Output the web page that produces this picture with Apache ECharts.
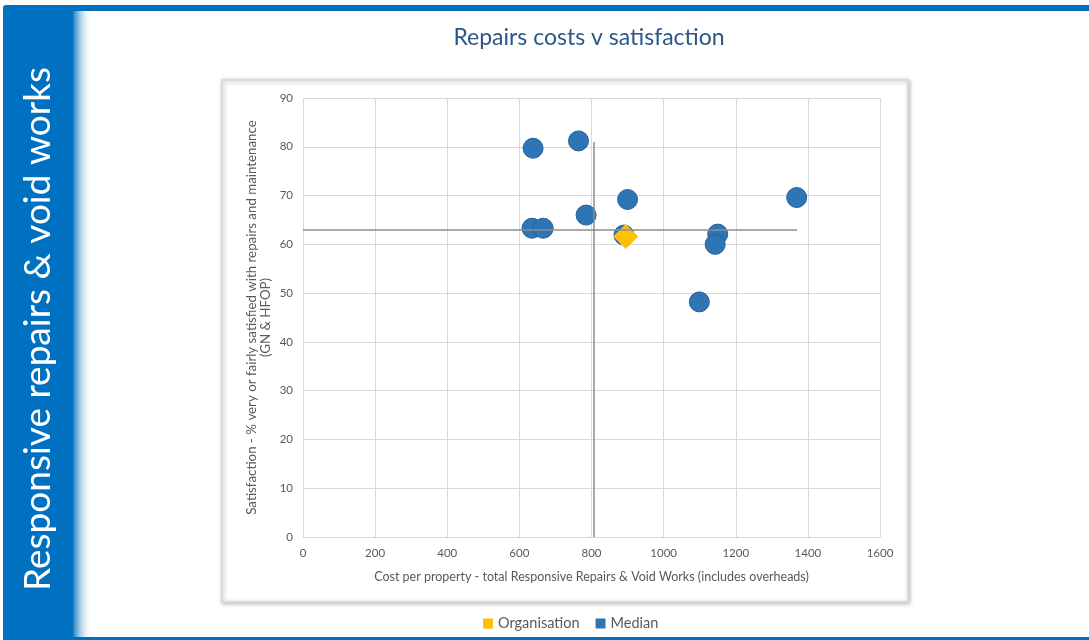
<!DOCTYPE html>
<html lang="en">
<head>
    <meta charset="UTF-8">
    <title>Repairs costs v satisfaction</title>
    <script type="text/javascript" src="https://cdn.jsdelivr.net/npm/echarts@6/dist/echarts.min.js"></script>
    <style>
        html, body {
            width: 100%;
            height: 100%;
            margin: 0;
            padding: 0;
            background: #fff;
        }
        #main {
            width: 1089px;
            height: 640px;
        }
    </style>
</head>
<body>
    <div id="main"></div>
    <script>
        // cost per property vs satisfaction, one point per peer
        var peerCost = [638, 764, 900, 785, 635, 666, 890, 1150, 1143, 1099, 1369];
        var peerSatisfaction = [79.7, 81.2, 69.2, 66.0, 63.3, 63.3, 61.9, 62.1, 60.0, 48.2, 69.6];

        var orgCost = [895];
        var orgSatisfaction = [61.6];

        // median cross-hair
        var medianCost = 805;
        var medianSatisfaction = 63;
        var medianLineEnds = { costMax: 1370, satisfactionMax: 81 };

        var xTicks = [0, 1600, 200];   // min, max, interval
        var yTicks = [0, 90, 10];

        var blue = '#0070c0';
        var grey = '#595959';
        var font = 'Lato, "Open Sans", sans-serif';

        var myChart = echarts.init(document.getElementById('main'));

        var option = {
            backgroundColor: '#fff',
            textStyle: { fontFamily: font },
            animation: false,
            graphic: [
                // blue frame
                { type: 'rect', shape: { x: 3, y: 5, width: 1086, height: 6, r: [3, 0, 0, 0] }, style: { fill: blue }, z: 1 },
                { type: 'rect', shape: { x: 3, y: 8, width: 70, height: 632, r: [3, 0, 0, 0] }, style: { fill: blue }, z: 1 },
                {
                    type: 'rect', shape: { x: 72, y: 11, width: 20, height: 629 },
                    style: {
                        fill: new echarts.graphic.LinearGradient(0, 0, 1, 0, [
                            { offset: 0, color: blue },
                            { offset: 1, color: 'rgba(255,255,255,0)' }
                        ])
                    },
                    z: 1
                },
                { type: 'rect', shape: { x: 72, y: 637, width: 1017, height: 3 }, style: { fill: blue }, z: 1 },
                {
                    type: 'text', x: 38, y: 329, rotation: Math.PI / 2,
                    style: {
                        text: 'Responsive repairs & void works',
                        fill: '#fff', fontSize: 37, fontFamily: font, fontWeight: 400,
                        align: 'center', verticalAlign: 'middle'
                    },
                    z: 2
                },
                // title
                {
                    type: 'text', x: 589, y: 38,
                    style: {
                        text: 'Repairs costs v satisfaction',
                        fill: '#2a5788', fontSize: 23, fontFamily: font,
                        align: 'center', verticalAlign: 'middle'
                    },
                    z: 2
                },
                // chart panel
                {
                    type: 'rect', shape: { x: 222, y: 80, width: 686, height: 522 },
                    style: {
                        fill: '#fff', stroke: '#d9d9d9', lineWidth: 2,
                        shadowBlur: 4, shadowColor: 'rgba(0,0,0,0.25)', shadowOffsetX: 1, shadowOffsetY: 1
                    },
                    z: 0
                }
            ],
            legend: {
                data: ['Organisation', 'Median'],
                left: 478,
                top: 611,
                icon: 'rect',
                itemWidth: 10,
                itemHeight: 10,
                itemGap: 16,
                itemStyle: { borderWidth: 0 },
                textStyle: { color: grey, fontSize: 14.5, fontFamily: font }
            },
            grid: {
                left: 303,
                top: 98,
                width: 577,
                height: 439,
                containLabel: false
            },
            xAxis: {
                type: 'value',
                min: xTicks[0],
                max: xTicks[1],
                interval: xTicks[2],
                name: 'Cost per property - total Responsive Repairs & Void Works (includes overheads)',
                nameLocation: 'middle',
                nameGap: 33,
                nameTextStyle: { color: grey, fontSize: 12.5, fontFamily: font },
                axisLine: { show: true, lineStyle: { color: '#d9d9d9' } },
                axisTick: { show: false },
                axisLabel: { color: grey, fontSize: 11.5, margin: 10, formatter: function (v) { return String(v); } },
                splitLine: { lineStyle: { color: '#d9d9d9' } }
            },
            yAxis: {
                type: 'value',
                min: yTicks[0],
                max: yTicks[1],
                interval: yTicks[2],
                name: 'Satisfaction - % very or fairly satisfied with repairs and maintenance\n(GN & HFOP)',
                nameLocation: 'middle',
                nameGap: 30,
                nameMoveOverlap: false,
                nameTextStyle: { color: grey, fontSize: 13.3, fontFamily: font, lineHeight: 14 },
                axisLine: { show: true, lineStyle: { color: '#d9d9d9' } },
                axisTick: { show: false },
                axisLabel: { color: grey, fontSize: 11.5, margin: 10 },
                splitLine: { lineStyle: { color: '#d9d9d9' } }
            },
            series: [
                {
                    name: 'Median',
                    type: 'scatter',
                    symbol: 'circle',
                    symbolSize: 20,
                    data: peerCost.map(function (c, i) { return [c, peerSatisfaction[i]]; }),
                    itemStyle: { color: '#2e75b6', borderColor: '#25609a', borderWidth: 1, opacity: 1 },
                    markLine: {
                        silent: true,
                        symbol: 'none',
                        label: { show: false },
                        lineStyle: { color: '#8c8c8c', width: 1.5, type: 'solid' },
                        data: [
                            [{ coord: [0, medianSatisfaction] }, { coord: [medianLineEnds.costMax, medianSatisfaction] }],
                            [{ coord: [medianCost, 0] }, { coord: [medianCost, medianLineEnds.satisfactionMax] }]
                        ]
                    },
                    z: 3
                },
                {
                    name: 'Organisation',
                    type: 'scatter',
                    symbol: 'diamond',
                    symbolSize: 25,
                    data: orgCost.map(function (c, i) { return [c, orgSatisfaction[i]]; }),
                    itemStyle: { color: '#ffc000', opacity: 1 },
                    z: 4
                }
            ]
        };
        myChart.setOption(option);

        window.addEventListener('resize', function() {
            myChart.resize();
        });
    </script>
</body>
</html>
